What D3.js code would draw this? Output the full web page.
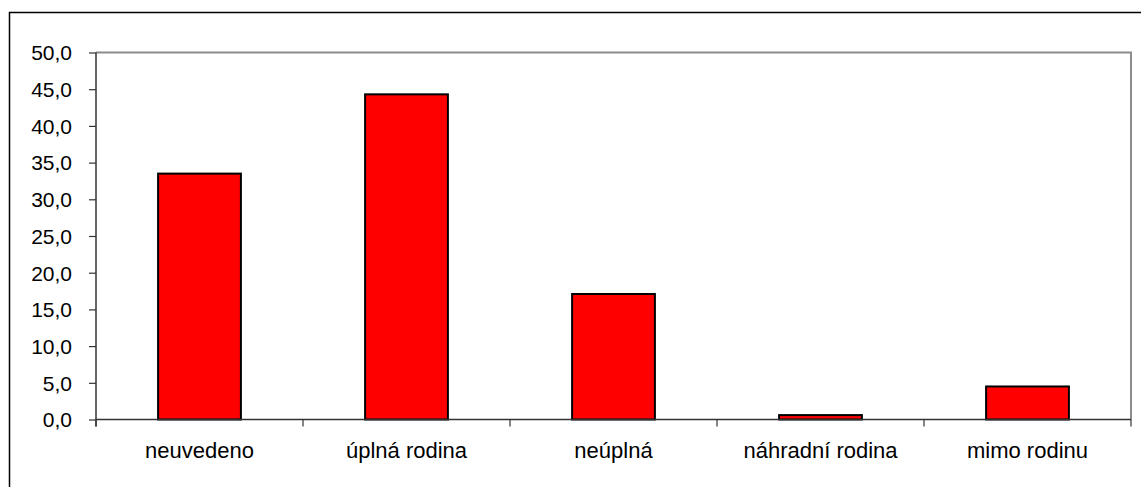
<!DOCTYPE html>
<html>
<head>
<meta charset="utf-8">
<script src="https://cdn.jsdelivr.net/npm/d3@7"></script>
<style>
	body { margin: 0; background: #fff; }
	svg text { font-family: "Liberation Sans", Arial, sans-serif; fill: #000; }
</style>
</head>
<body>
<svg id="chart" width="1141" height="487"></svg>
<script>
// data
var categories = ["neuvedeno", "úplná rodina", "neúplná", "náhradní rodina", "mimo rodinu"];
var values = [33.5, 44.3, 17.1, 0.6, 4.5];
var y_ticks = [0, 5, 10, 15, 20, 25, 30, 35, 40, 45, 50];

var svg = d3.select("#chart");
var plot = { left: 96, top: 52.5, right: 1131, bottom: 419.5 };

// outer frame (runs off the right and bottom edge)
svg.append("rect")
	.attr("x", 9.5).attr("y", 12.5)
	.attr("width", 1160).attr("height", 500)
	.attr("fill", "none").attr("stroke", "#000").attr("stroke-width", 1.5);

var x = d3.scaleBand().domain(categories).range([plot.left, plot.right]).paddingInner(0).paddingOuter(0);
var y = d3.scaleLinear().domain([0, 50]).range([plot.bottom, plot.top]);
var bar_w = x.bandwidth() / 2.5;

// plot area top/right border
svg.append("path")
	.attr("d", "M" + plot.left + "," + plot.top + "H" + plot.right + "V" + plot.bottom)
	.attr("fill", "none").attr("stroke", "#8c8c8c").attr("stroke-width", 2);

// bars
svg.append("g").attr("class", "bars")
	.selectAll("rect").data(values).enter()
	.append("rect")
	.attr("x", function(d, i){ return x(categories[i]) + (x.bandwidth() - bar_w) / 2; })
	.attr("y", function(d){ return y(d); })
	.attr("width", bar_w)
	.attr("height", function(d){ return y(0) - y(d); })
	.attr("fill", "#ff0000")
	.attr("stroke", "#000").attr("stroke-width", 2);

// y axis
var yaxis = d3.axisLeft(y).tickValues(y_ticks).tickSize(7).tickPadding(17)
	.tickFormat(function(d){ return d3.format(".1f")(d).replace(".", ","); });
var yg = svg.append("g").attr("class", "axis axis-y")
	.attr("transform", "translate(" + plot.left + ",0)")
	.call(yaxis);
yg.select(".domain").attr("stroke", "#333").attr("stroke-width", 1.5).attr("d", "M0," + plot.top + "V" + (plot.bottom + 7));
yg.selectAll(".tick line").attr("stroke", "#333").attr("stroke-width", 1.2);
yg.selectAll(".tick text").style("font-size", "21px").attr("dy", "0.35em");

// x axis with ticks on the category boundaries
var xg = svg.append("g").attr("class", "axis axis-x")
	.attr("transform", "translate(0," + plot.bottom + ")");
xg.append("line")
	.attr("x1", plot.left).attr("x2", plot.right)
	.attr("stroke", "#333").attr("stroke-width", 1.5);
var bounds = categories.map(function(c){ return x(c); }).concat([plot.right]);
xg.selectAll(".bound").data(bounds).enter()
	.append("line").attr("class", "bound")
	.attr("x1", function(d){ return d; }).attr("x2", function(d){ return d; })
	.attr("y1", 0).attr("y2", 7)
	.attr("stroke", "#333").attr("stroke-width", 1.2);
xg.selectAll(".label").data(categories).enter()
	.append("text").attr("class", "label")
	.attr("x", function(d){ return x(d) + x.bandwidth() / 2; })
	.attr("y", 38.5)
	.attr("text-anchor", "middle")
	.style("font-size", "22px")
	.text(function(d){ return d; });
</script>
</body>
</html>
